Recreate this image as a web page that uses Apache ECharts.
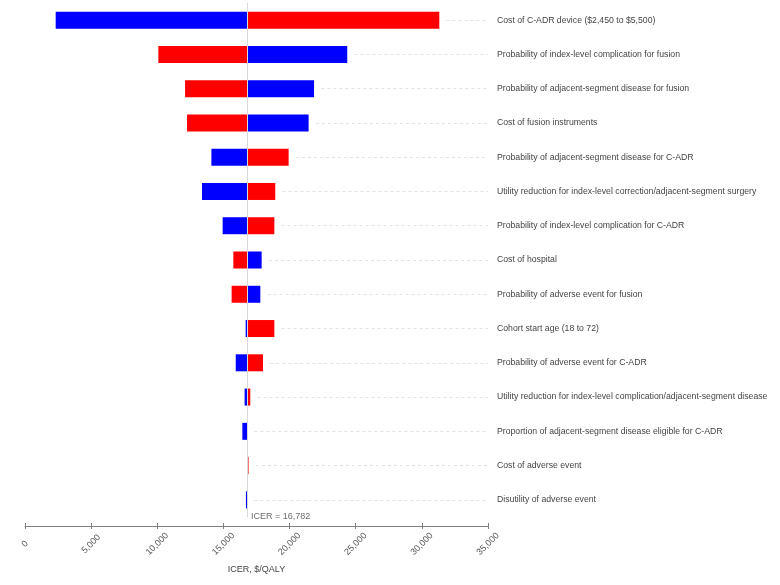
<!DOCTYPE html>
<html>
<head>
<meta charset="utf-8">
<style>html,body{margin:0;padding:0;background:#fff}#c{width:780px;height:585px}</style>
<script src="https://cdn.jsdelivr.net/npm/echarts@6/dist/echarts.min.js"></script>
</head>
<body>
<div id="c"></div>
<script>
var categories = [
  'Cost of C-ADR device ($2,450 to $5,500)',
  'Probability of index-level complication for fusion',
  'Probability of adjacent-segment disease for fusion',
  'Cost of fusion instruments',
  'Probability of adjacent-segment disease for C-ADR',
  'Utility reduction for index-level correction/adjacent-segment surgery',
  'Probability of index-level complication for C-ADR',
  'Cost of hospital',
  'Probability of adverse event for fusion',
  'Cohort start age (18 to 72)',
  'Probability of adverse event for C-ADR',
  'Utility reduction for index-level complication/adjacent-segment disease',
  'Proportion of adjacent-segment disease eligible for C-ADR',
  'Cost of adverse event',
  'Disutility of adverse event'
];
var blueIcer = [2320, 24360, 21850, 21440, 14090, 13380, 14940, 17890, 17790, 16680, 15930, 16600, 16430, 16782, 16700];
var redIcer  = [31320, 10080, 12100, 12250, 19930, 18920, 18850, 15750, 15620, 18850, 17990, 17030, 16782, 16900, 16782];
var baseIcer = 16782;
var xTicks = [0, 5000, 10000, 15000, 20000, 25000, 30000, 35000];

var BLUE = '#0000ff', RED = '#ff0000';
var fmt = function (v) { return String(v).replace(/\B(?=(\d{3})+(?!\d))/g, ','); };

var placeholder = [], leftSeg = [], rightSeg = [], dashData = [];
for (var i = 0; i < categories.length; i++) {
  var lo = Math.min(blueIcer[i], redIcer[i]);
  var hi = Math.max(blueIcer[i], redIcer[i]);
  var leftColor = blueIcer[i] <= redIcer[i] ? BLUE : RED;
  var rightColor = leftColor === BLUE ? RED : BLUE;
  if (blueIcer[i] === baseIcer) { leftColor = RED; rightColor = RED; }
  if (redIcer[i] === baseIcer) { leftColor = BLUE; rightColor = BLUE; }
  placeholder.push(lo);
  leftSeg.push({ value: baseIcer - lo, itemStyle: { color: leftColor } });
  rightSeg.push({ value: hi - baseIcer, itemStyle: { color: rightColor } });
  dashData.push([{ coord: [hi + 550, i] }, { coord: [xTicks[xTicks.length - 1], i] }]);
}

var chart = echarts.init(document.getElementById('c'));
var axisCommon = {
  type: 'value', min: xTicks[0], max: xTicks[xTicks.length - 1], interval: 5000,
  position: 'bottom', offset: 9, splitLine: { show: false }
};
chart.setOption({
  animation: false,
  textStyle: { fontFamily: 'Liberation Sans, Arial, sans-serif' },
  grid: { left: 25, right: 292, top: 3, bottom: 68, containLabel: false },
  xAxis: [
    Object.assign({}, axisCommon, {
      name: 'ICER, $/QALY', nameLocation: 'middle', nameGap: 39,
      nameTextStyle: { fontSize: 9, color: '#444' },
      axisLine: { show: true, lineStyle: { color: '#808080', width: 1 } },
      axisTick: { show: true, length: 3, lineStyle: { color: '#808080' } },
      axisLabel: { rotate: 45, fontSize: 9, color: '#555', margin: 18,
                   align: 'center', verticalAlign: 'middle', formatter: fmt }
    }),
    Object.assign({}, axisCommon, {
      axisLine: { show: false },
      axisTick: { show: true, inside: true, length: 3, lineStyle: { color: '#808080' } },
      axisLabel: { show: false }
    })
  ],
  yAxis: {
    type: 'category', inverse: true, position: 'right', data: categories,
    axisLine: { show: false }, axisTick: { show: false }, splitLine: { show: false },
    axisLabel: { fontSize: 8.7, color: '#444', margin: 9, align: 'left' }
  },
  series: [
    { type: 'bar', stack: 't', barWidth: 17, data: placeholder, silent: true,
      itemStyle: { color: 'rgba(0,0,0,0)' },
      markLine: {
        silent: true, symbol: 'none',
        lineStyle: { color: '#e2e2e2', type: [3, 3], width: 1 },
        label: { show: false },
        data: dashData
      }
    },
    { type: 'bar', stack: 't', barWidth: 17, data: leftSeg },
    { type: 'bar', stack: 't', barWidth: 17, data: rightSeg,
      markLine: {
        silent: true, symbol: 'none',
        lineStyle: { color: '#d8d8d8', type: 'solid', width: 1 },
        label: { show: false },
        data: [{ xAxis: baseIcer }]
      }
    },
    { type: 'scatter', symbolSize: 0, silent: true,
      data: [[baseIcer, categories.length - 1]],
      label: { show: true, position: 'right', distance: 4, offset: [0, 17],
               fontSize: 9, color: '#444',
               formatter: function () { return 'ICER = ' + fmt(baseIcer); } }
    }
  ]
});
</script>
</body>
</html>
